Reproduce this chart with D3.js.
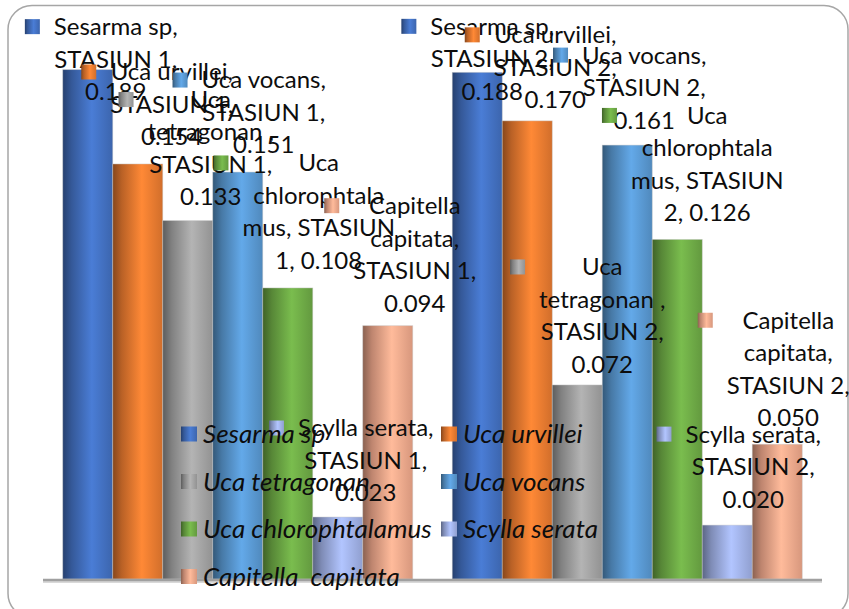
<!DOCTYPE html>
<html>
<head>
<meta charset="utf-8">
<script src="https://cdn.jsdelivr.net/npm/d3@7/dist/d3.min.js"></script>
<style>
  html, body { margin: 0; padding: 0; background: #fff; overflow: hidden; }
  svg { display: block; }
</style>
</head>
<body>
<svg id="chart" width="849" height="609"></svg>
<script>
// Biomass of each species per station
const stations = ["STASIUN 1", "STASIUN 2"];
const species = ["Sesarma sp", "Uca urvillei", "Uca tetragonan ", "Uca vocans",
                 "Uca chlorophtalamus", "Scylla serata", "Capitella  capitata"];
const stasiun1 = [0.189, 0.154, 0.133, 0.151, 0.108, 0.023, 0.094];
const stasiun2 = [0.188, 0.170, 0.072, 0.161, 0.126, 0.020, 0.050];
const yDomain = [0, 0.2];

// Fill colours per species
const colors = ["#4472C4", "#ED7D31", "#A5A5A5", "#5B9BD5", "#70AD47", "#A3B4EA", "#F4AB8E"];

// Data-label wrapping (characters per line) and placement relative to the bar top
const labelWrap = [[11, 10], [13, 10], [3, 12, 10], [11, 10], [3, 12, 12], [14, 10], [9, 9, 10]];
const labelOffset1 = [[28, -43], [34, -92], [23, -121], [26, -92], [31, -125], [28, -89], [27, -120]];
const labelOffset2 = [[15, -46], [28, -86], [25, -118], [17, -90], [30, -124], [26, -91], [11, -124]];

const W = 849, H = 609;
const FONT = "Lato, 'Open Sans', sans-serif";
const FS = 24;
const FS_LEGEND = 26;
const LINE = 32.5;

const svg = d3.select("#chart");
const defs = svg.append("defs");

// Cylinder-like horizontal shading for every species
colors.forEach((c, i) => {
  const base = d3.rgb(c);
  const g = defs.append("linearGradient").attr("id", "grad" + i)
    .attr("x1", "0%").attr("x2", "100%").attr("y1", "0%").attr("y2", "0%");
  g.append("stop").attr("offset", "0%").attr("stop-color", base.darker(1.6));
  g.append("stop").attr("offset", "18%").attr("stop-color", base.darker(0.7));
  g.append("stop").attr("offset", "58%").attr("stop-color", base.brighter(0.25));
  g.append("stop").attr("offset", "100%").attr("stop-color", base.darker(0.35));
});

// Outer frame
svg.append("rect")
  .attr("x", 8).attr("y", 5.5).attr("width", 840).attr("height", 612)
  .attr("rx", 24).attr("ry", 24)
  .attr("fill", "#fff").attr("stroke", "#a6a6a6").attr("stroke-width", 1.5);

const x0 = d3.scaleBand().domain(stations).range([43, 822]).padding(0);
const x1 = d3.scaleBand().domain(species).range([0, x0.bandwidth()])
  .paddingInner(0).paddingOuter(0.395);
const y = d3.scaleLinear().domain(yDomain).range([579, 40]);

const rows = [];
stations.forEach((st, si) => {
  const vals = si === 0 ? stasiun1 : stasiun2;
  const offs = si === 0 ? labelOffset1 : labelOffset2;
  species.forEach((sp, i) => {
    rows.push({ station: st, species: sp, idx: i, value: vals[i], off: offs[i] });
  });
});

// Bars
svg.append("g").selectAll("rect").data(rows).join("rect")
  .attr("x", d => x0(d.station) + x1(d.species))
  .attr("y", d => y(d.value))
  .attr("width", x1.bandwidth())
  .attr("height", d => y(0) - y(d.value))
  .attr("fill", d => `url(#grad${d.idx})`)
  .attr("stroke", "rgba(200,200,200,0.55)").attr("stroke-width", 0.8);

// Category axis line with a soft shadow
svg.append("line")
  .attr("x1", 43).attr("x2", 822).attr("y1", y(0) + 3).attr("y2", y(0) + 3)
  .attr("stroke", "#d9d9d9").attr("stroke-width", 2);
svg.append("line")
  .attr("x1", 43).attr("x2", 822).attr("y1", y(0) + 1).attr("y2", y(0) + 1)
  .attr("stroke", "#a0a0a0").attr("stroke-width", 2.5);

// Data labels: "Species, Station, value" with a legend key
function splitLabel(s, counts) {
  const lines = [];
  let pos = 0;
  counts.forEach(n => {
    lines.push(s.slice(pos, pos + n).trim());
    pos += n;
    while (s[pos] === " ") pos++;
  });
  lines.push(s.slice(pos).trim());
  return lines;
}

const labels = svg.append("g");
rows.forEach(d => {
  const text = `${d.species}, ${d.station}, ${d.value.toFixed(3)}`;
  const lines = splitLabel(text, labelWrap[d.idx]);
  const cx = x0(d.station) + x1(d.species) + x1.bandwidth() / 2 + d.off[0];
  const cy = y(d.value) + d.off[1];
  const g = labels.append("g");
  const t = g.append("text")
    .attr("font-family", FONT).attr("font-size", FS).attr("fill", "#0d0d0d")
    .attr("text-anchor", "middle");
  let maxW = 0;
  lines.forEach((ln, k) => {
    const ts = t.append("tspan").attr("x", cx).attr("y", cy + k * LINE)
      .attr("dy", "0.35em").text(ln);
    maxW = Math.max(maxW, ts.node().getComputedTextLength());
  });
  g.insert("rect", "text")
    .attr("x", cx - maxW / 2 - 14 - 15).attr("y", cy - 7.5)
    .attr("width", 15).attr("height", 15)
    .attr("fill", `url(#grad${d.idx})`);
});

// Legend: two columns, italic species names
const legend = svg.append("g");
const legX = [181, 441];
const legY = [434, 481.5, 529, 576.5];
species.forEach((sp, i) => {
  const col = i % 2, row = Math.floor(i / 2);
  const g = legend.append("g");
  g.append("rect").attr("x", legX[col]).attr("y", legY[row] - 7.5)
    .attr("width", 16).attr("height", 15).attr("fill", `url(#grad${i})`);
  g.append("text").attr("x", legX[col] + 22).attr("y", legY[row])
    .attr("dy", "0.35em")
    .attr("font-family", FONT).attr("font-style", "italic").attr("font-size", FS_LEGEND)
    .attr("fill", "#0d0d0d")
    .style("white-space", "pre")
    .text(sp.trim());
});
</script>
</body>
</html>
